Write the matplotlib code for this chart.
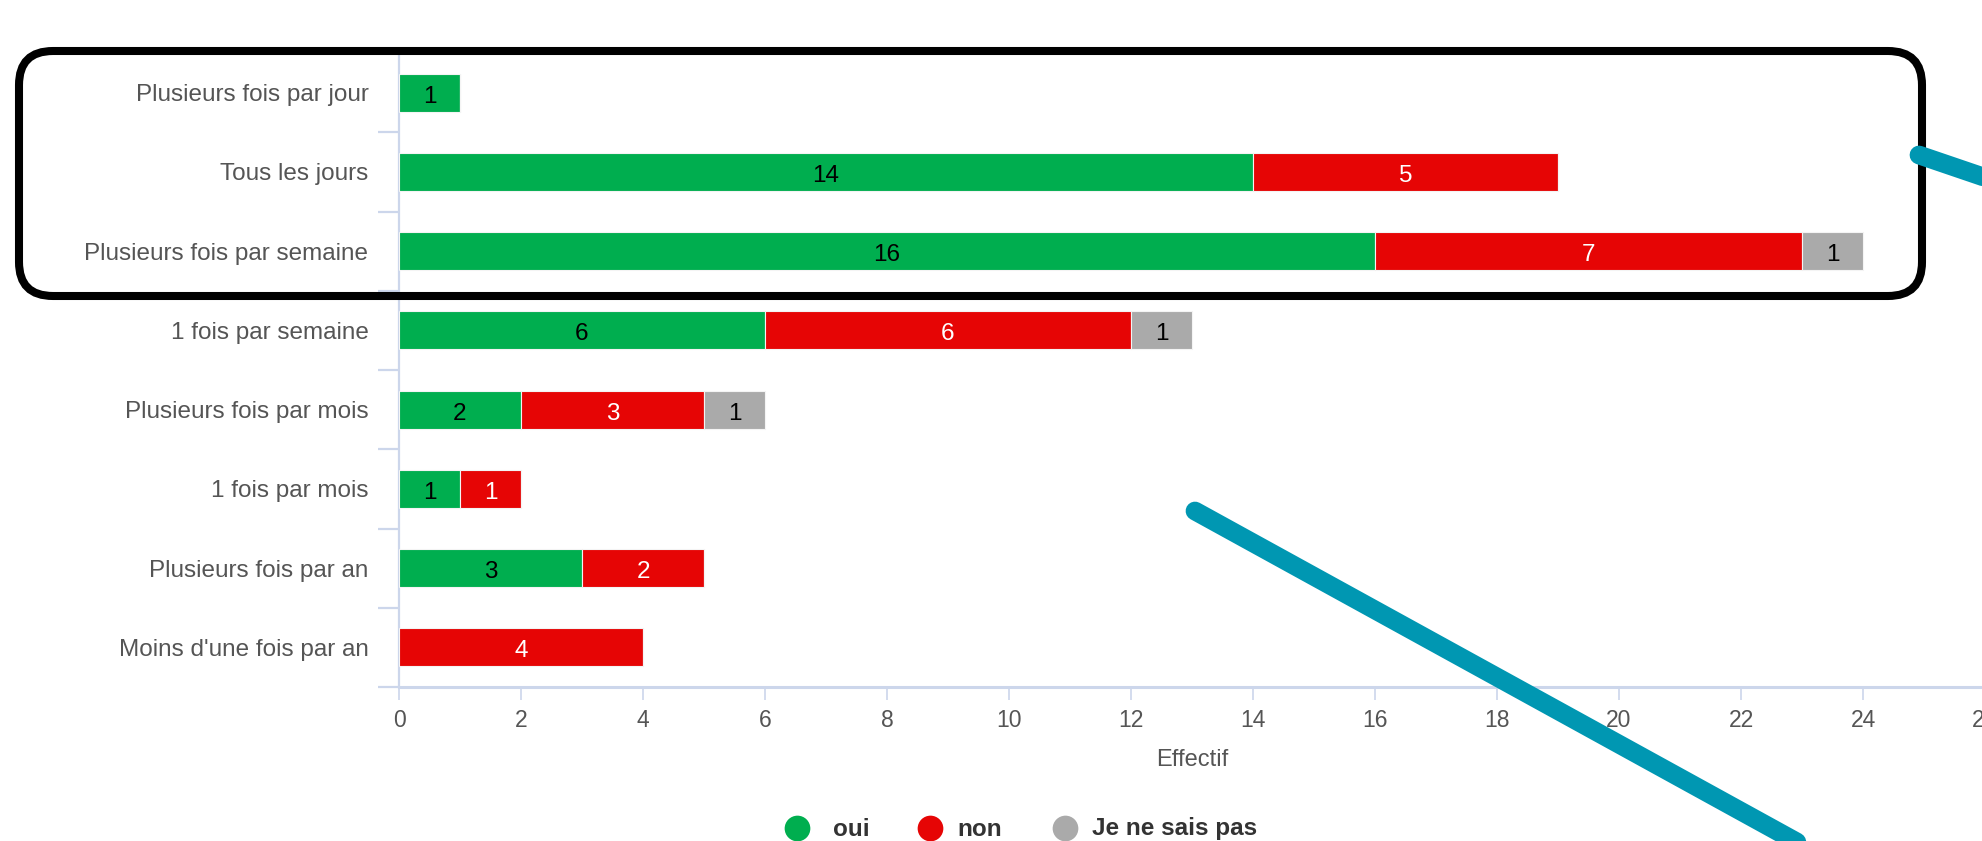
import matplotlib
matplotlib.use("Agg")
import matplotlib.pyplot as plt
import matplotlib.transforms as mtransforms
from matplotlib.patches import FancyBboxPatch
from matplotlib.lines import Line2D
import numpy as np

plt.rcParams['font.family'] = ['Liberation Sans', 'DejaVu Sans']

categories = ["Plusieurs fois par jour", "Tous les jours", "Plusieurs fois par semaine",
              "1 fois par semaine", "Plusieurs fois par mois", "1 fois par mois",
              "Plusieurs fois par an", "Moins d'une fois par an"]
oui = [1, 14, 16, 6, 2, 1, 3, 0]
non = [0, 5, 7, 6, 3, 1, 2, 4]
nsp = [0, 0, 1, 1, 1, 0, 0, 0]
series_names = ["oui", "non", "Je ne sais pas"]
series_colors = ["#00ae4f", "#e60505", "#aaaaaa"]
label_colors = ["#000000", "#ffffff", "#000000"]
xticks = list(range(0, 27, 2))
xlabel = "Effectif"

W, H = 1982, 841
fig = plt.figure(figsize=(W / 100, H / 100), dpi=100)
ax_left, ax_right, ax_top, ax_bottom = 399, 1985, 53, 687
ax = fig.add_axes([ax_left / W, 1 - ax_bottom / H, (ax_right - ax_left) / W, (ax_bottom - ax_top) / H])

axis_col = "#ccd6eb"
y = np.arange(len(categories))
left = np.zeros(len(categories))
for vals, col, lcol in zip([oui, non, nsp], series_colors, label_colors):
    vals = np.array(vals, dtype=float)
    ax.barh(y, vals, left=left, height=0.48, color=col, edgecolor="#f4f4f4", linewidth=0.8, zorder=3)
    for yi, (l, v) in enumerate(zip(left, vals)):
        if v > 0:
            ax.text(l + v / 2, yi + 0.02, f"{int(v)}", ha="center", va="center_baseline", fontsize=17.5,
                    color=lcol, zorder=4)
    left = left + vals

ax.set_xlim(0, 26)
ax.set_ylim(len(categories) - 0.5, -0.5)
ax.set_yticks(y)
ax.set_yticklabels(categories)
ax.set_yticks(np.arange(-0.5, len(categories) + 0.5, 1), minor=True)
ax.tick_params(axis="y", which="major", length=0, pad=22, labelsize=17.5, labelcolor="#555555")
ax.tick_params(axis="y", which="minor", length=15, width=1.6, color=axis_col, direction="out")
ax.set_xticks(xticks)
ax.tick_params(axis="x", which="major", length=9, width=1.2, color=axis_col, direction="out",
               pad=7, labelsize=16.5, labelcolor="#555555")
ax.set_xlabel(xlabel, fontsize=17, color="#555555", labelpad=12)

for s in ["top", "right"]:
    ax.spines[s].set_visible(False)
ax.spines["left"].set_color(axis_col)
ax.spines["left"].set_linewidth(1.6)
ax.spines["bottom"].set_color(axis_col)
ax.spines["bottom"].set_linewidth(2.2)

# pixel-coordinate transform (origin top-left)
pix = mtransforms.Affine2D().scale(1 / W, -1 / H).translate(0, 1) + fig.transFigure

# Legend
leg_y = 829
for cx, tx, name, col in zip([797, 930, 1065], [833, 957, 1092], series_names, series_colors):
    fig.add_artist(Line2D([cx], [leg_y - 1], marker="o", markersize=18.5, color=col,
                          markeredgewidth=0, linestyle="none", transform=pix))
    fig.text(tx / W, 1 - leg_y / H, name, fontsize=17.5, fontweight="bold", color="#333333",
             ha="left", va="center")

# Annotation: rounded black rectangle
rect = FancyBboxPatch((19, 51), 1922 - 19, 296 - 51,
                      boxstyle="round,pad=0,rounding_size=34",
                      transform=pix, fill=False, edgecolor="black", linewidth=5.8, zorder=10)
fig.add_artist(rect)

# Annotation: teal strokes
teal = "#0097b2"
fig.add_artist(Line2D([1919, 2010], [155, 186], color=teal, linewidth=13.5,
                      solid_capstyle="round", transform=pix, zorder=11))
fig.add_artist(Line2D([1195, 1815], [511, 852], color=teal, linewidth=13.5,
                      solid_capstyle="round", transform=pix, zorder=11))

fig.savefig("out.png", dpi=100)
